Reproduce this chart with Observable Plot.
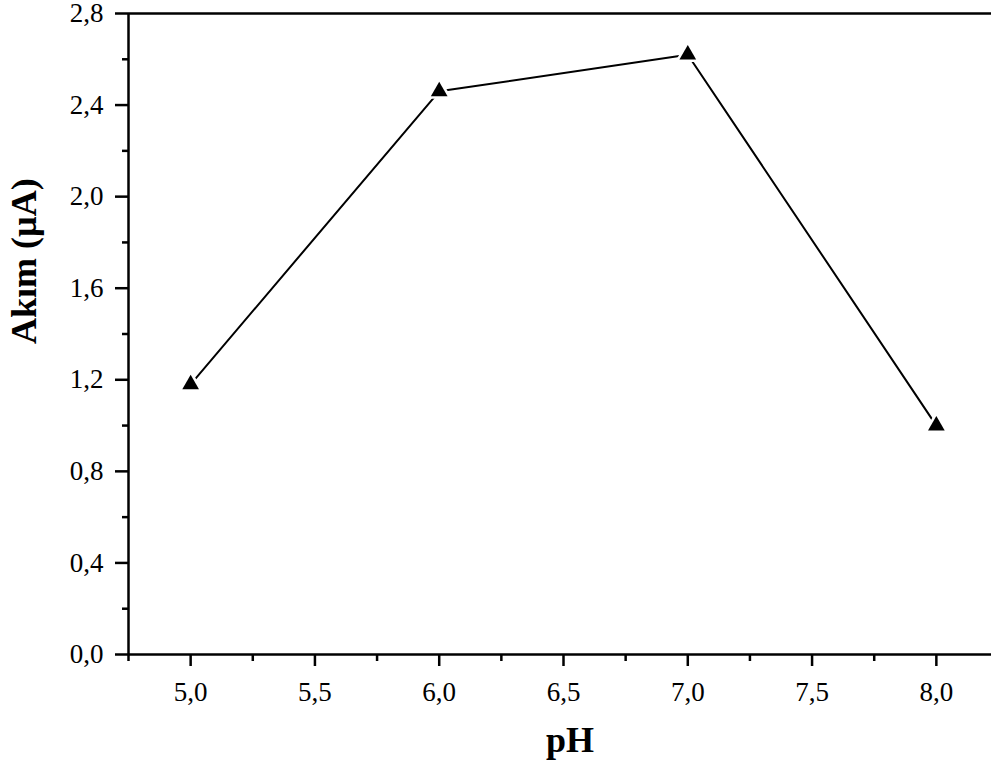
<!DOCTYPE html>
<html>
<head>
<meta charset="utf-8">
<script src="https://cdn.jsdelivr.net/npm/d3@7"></script>
<script src="https://cdn.jsdelivr.net/npm/@observablehq/plot@0.6"></script>
<style>
  html, body { margin: 0; padding: 0; background: #fff; }
  svg, svg text, svg g { font-family: "Liberation Serif", "Times New Roman", serif !important; }
</style>
</head>
<body>
<div id="chart"></div>
<script>
const pH = [5.0, 6.0, 7.0, 8.0];
const current = [1.18, 2.46, 2.62, 1.0];
const xMajorTicks = [5.0, 5.5, 6.0, 6.5, 7.0, 7.5, 8.0];
const xMinorTicks = [4.75, 5.25, 5.75, 6.25, 6.75, 7.25, 7.75, 8.25];
const yMajorTicks = [0.0, 0.4, 0.8, 1.2, 1.6, 2.0, 2.4, 2.8];
const yMinorTicks = [0.2, 0.6, 1.0, 1.4, 1.8, 2.2, 2.6];
const xTitle = "pH";
const yTitle = "Akım (µA)";

const data = pH.map((x, i) => ({x, y: current[i]}));
const fmt = d => d.toFixed(1).replace(".", ",");
const serif = "Liberation Serif";

const chart = Plot.plot({
  width: 991,
  height: 773,
  marginLeft: 128,
  marginTop: 13,
  marginBottom: 119,
  marginRight: 0,
  style: {fontFamily: serif, background: "#fff", color: "#000"},
  x: {domain: [4.75, 8.25], range: [128, 998]},
  y: {domain: [0, 2.8]},
  marks: [
    Plot.ruleY([2.8], {stroke: "#000", strokeWidth: 2.5}),
    Plot.ruleY([0], {stroke: "#000", strokeWidth: 2.5}),
    Plot.ruleX([4.75], {stroke: "#000", strokeWidth: 2.5}),
    Plot.axisX(xMinorTicks, {tickSize: 7, tickFormat: () => "", strokeWidth: 2.5, label: null}),
    Plot.axisX(xMajorTicks, {tickSize: 12, tickPadding: 15, tickFormat: fmt, strokeWidth: 2.5, fontSize: 27, fontFamily: serif, label: null}),
    Plot.axisY(yMinorTicks, {tickSize: 6, tickFormat: () => "", strokeWidth: 2.5, label: null}),
    Plot.axisY(yMajorTicks, {tickSize: 13, tickPadding: 12, tickFormat: fmt, strokeWidth: 2.5, fontSize: 27, fontFamily: serif, label: null}),
    Plot.line(data, {x: "x", y: "y", stroke: "#000", strokeWidth: 2}),
    Plot.dot(data, {x: "x", y: "y", symbol: "triangle", r: 9.5, fill: "#fff"}),
    Plot.dot(data, {x: "x", y: "y", symbol: "triangle", r: 6.2, fill: "#000"}),
    Plot.text([xTitle], {frameAnchor: "bottom", dx: 10, dy: 97, fontSize: 36, fontWeight: "bold", fontFamily: serif, fill: "#000"}),
    Plot.text([yTitle], {frameAnchor: "left", rotate: -90, dx: -104, dy: 10, fontSize: 36, fontWeight: "bold", fontFamily: serif, fill: "#000"})
  ]
});
d3.select(chart).selectAll("text, g")
  .attr("font-family", serif)
  .style("font-family", "'Liberation Serif', serif");
document.getElementById("chart").appendChild(chart);
</script>
</body>
</html>
